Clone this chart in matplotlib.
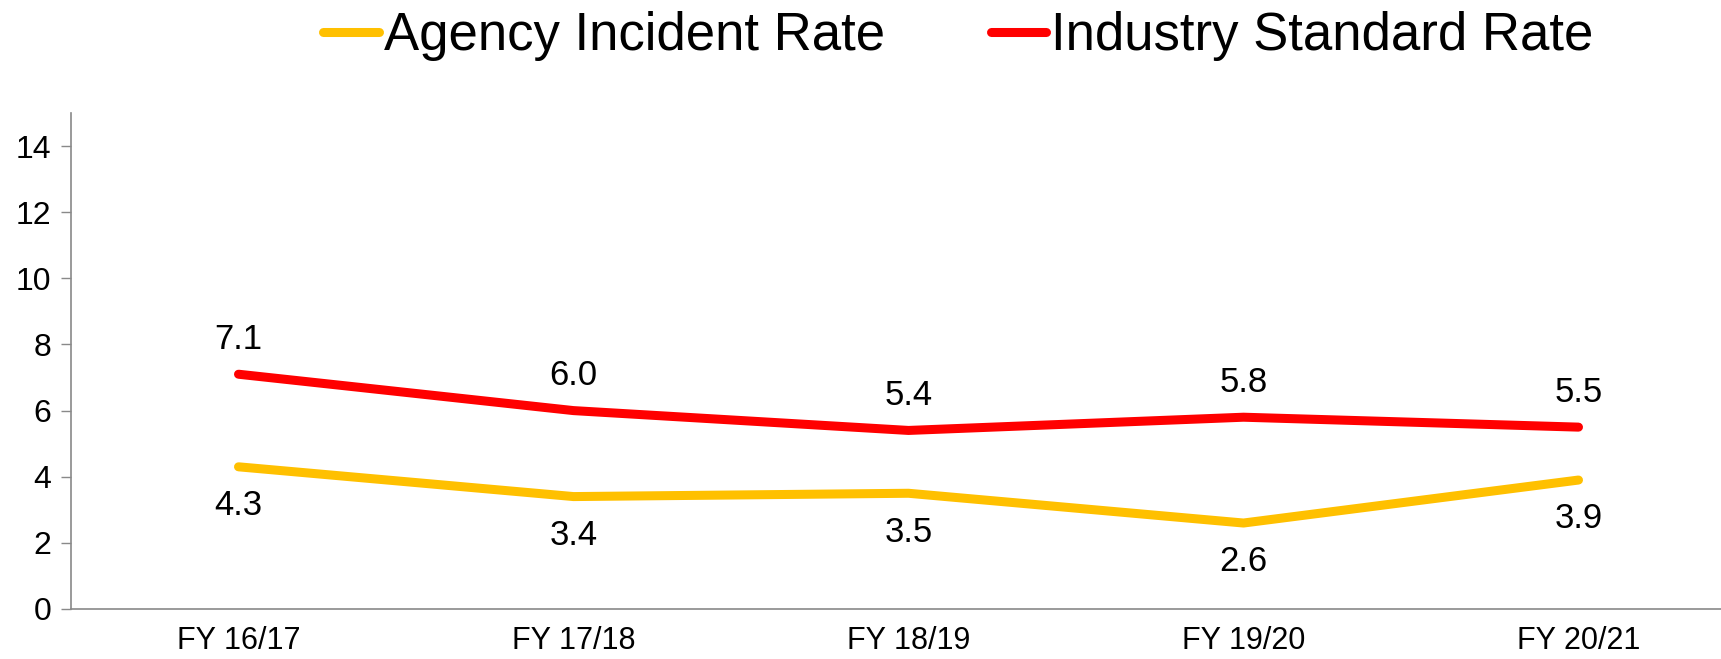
import matplotlib.pyplot as plt
from matplotlib import font_manager

years = ["FY 16/17", "FY 17/18", "FY 18/19", "FY 19/20", "FY 20/21"]
agency_rate = [4.3, 3.4, 3.5, 2.6, 3.9]
industry_rate = [7.1, 6.0, 5.4, 5.8, 5.5]

plt.rcParams['font.family'] = ['Liberation Sans', 'DejaVu Sans']

names = {f.name for f in font_manager.fontManager.ttflist}
legend_family = 'Liberation Sans Narrow' if 'Liberation Sans Narrow' in names else 'Liberation Sans'

fig = plt.figure(figsize=(17.21, 6.59), dpi=100)
W, H = 1721, 659
ax = fig.add_axes([71 / W, (H - 609) / H, (1746 - 71) / W, (609 - 113) / H])

x = list(range(len(years)))
ax.plot(x, agency_rate, color='#FFC000', lw=6.5, solid_capstyle='round',
        label='Agency Incident Rate')
ax.plot(x, industry_rate, color='#FF0000', lw=6.5, solid_capstyle='round',
        label='Industry Standard Rate')

for i, v in enumerate(industry_rate):
    ax.annotate(f"{v:.1f}", (i, v), xytext=(0, 25), textcoords='offset points',
                ha='center', va='center', fontsize=25)
for i, v in enumerate(agency_rate):
    ax.annotate(f"{v:.1f}", (i, v), xytext=(0, -28), textcoords='offset points',
                ha='center', va='center', fontsize=25)

ax.set_xlim(-0.5, len(years) - 0.5)
ax.set_ylim(0, 15)
ax.set_yticks(range(0, 15, 2))
ax.set_xticks(x)
ax.set_xticklabels(years)
ax.tick_params(axis='y', labelsize=23, length=7, width=1, color='#898989', pad=7)
ax.tick_params(axis='x', labelsize=22, length=0, pad=12)
for s in ['top', 'right']:
    ax.spines[s].set_visible(False)
for s in ['left', 'bottom']:
    ax.spines[s].set_color('#898989')
    ax.spines[s].set_linewidth(1.2)

fig.legend(loc='center', bbox_to_anchor=(0.557, 0.945), ncol=2, frameon=False,
           prop={'family': legend_family, 'size': 38},
           handlelength=1.05, handletextpad=0.1, columnspacing=2.0)

fig.savefig('out.png', dpi=100)
